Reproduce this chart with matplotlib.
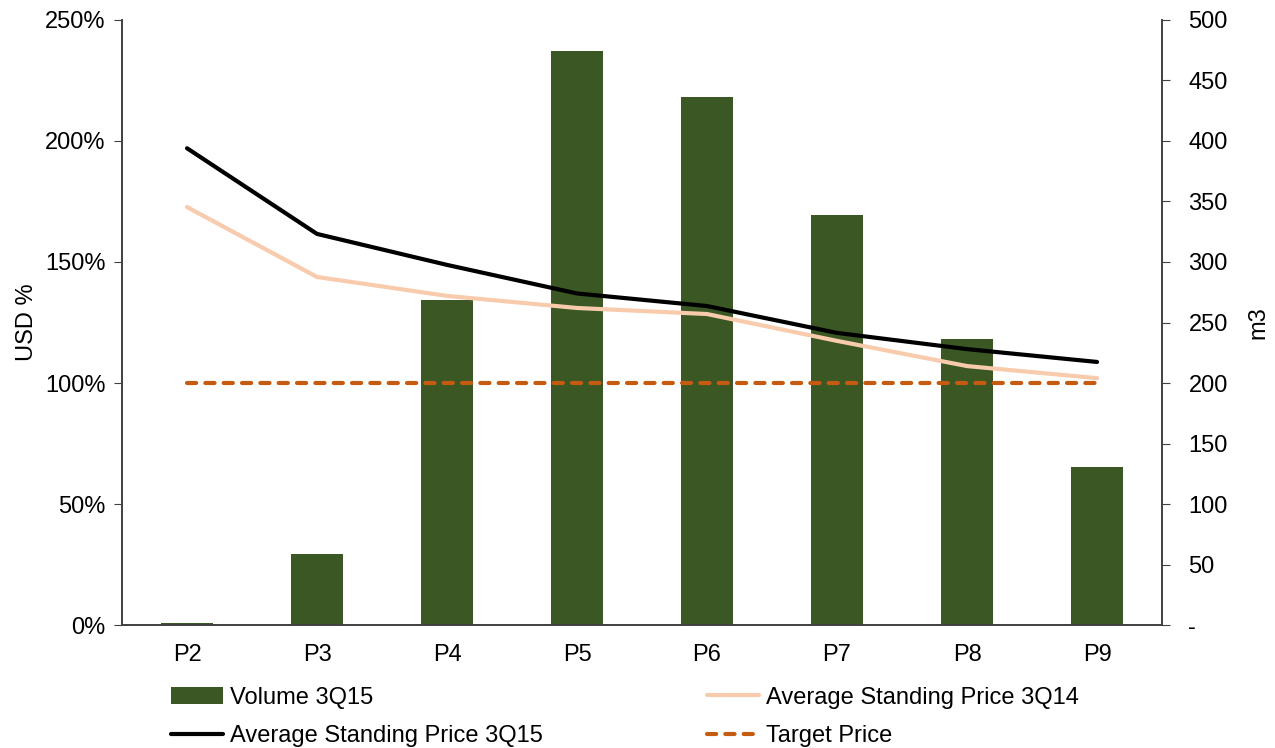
import matplotlib.pyplot as plt
import matplotlib.ticker
import numpy as np

plt.rcParams["font.family"] = ["Liberation Sans", "DejaVu Sans"]
plt.rcParams["font.size"] = 17

periods = ["P2", "P3", "P4", "P5", "P6", "P7", "P8", "P9"]
volume_3q15 = [1.5, 59, 269, 474, 436, 339, 236, 131]
price_3q14 = [1.727, 1.438, 1.360, 1.310, 1.285, 1.174, 1.070, 1.020]
price_3q15 = [1.970, 1.616, 1.488, 1.370, 1.318, 1.207, 1.140, 1.087]
target_price = [1.0] * len(periods)

x = np.arange(len(periods))
spine_color = "#404040"

fig = plt.figure(figsize=(12.75, 7.48), dpi=100)
ax = fig.add_axes([0.0957, 0.1644, 0.8157, 0.8089])
ax2 = ax.twinx()

# bars on the secondary axis, kept behind the price lines
ax.set_zorder(ax2.get_zorder() + 1)
ax.patch.set_visible(False)

bars = ax2.bar(x, volume_3q15, width=0.4, color="#3A5724", label="Volume 3Q15")
l14, = ax.plot(x, price_3q14, color="#F8CBAD", lw=3, solid_capstyle="round",
               label="Average Standing Price 3Q14")
l15, = ax.plot(x, price_3q15, color="black", lw=3, solid_capstyle="round",
               label="Average Standing Price 3Q15")
lt, = ax.plot(x, target_price, color="#C55A11", lw=3, linestyle=(0, (2.2, 2.2)),
              dash_capstyle="round", label="Target Price")

ax.set_xlim(-0.5, len(periods) - 0.5)
ax.set_ylim(0, 2.5)
ax.set_yticks(np.arange(0, 2.51, 0.5))
ax.yaxis.set_major_formatter(matplotlib.ticker.PercentFormatter(xmax=1, decimals=0))
ax2.set_ylim(0, 500)
ax2.set_yticks(np.arange(0, 501, 50))
ax2.set_yticklabels(["-"] + [str(v) for v in range(50, 501, 50)])

ax.set_xticks(x)
ax.set_xticklabels(periods)
ax.tick_params(axis="x", length=0, pad=14)
ax.tick_params(axis="y", direction="out", length=6, color=spine_color, pad=6)
ax2.tick_params(axis="y", direction="out", length=6, color=spine_color, pad=13)

ax.set_ylabel("USD %", labelpad=5)
ax2.set_ylabel("m3", labelpad=14)

for a in (ax, ax2):
    a.spines["top"].set_visible(False)
    for s in ("left", "right", "bottom"):
        a.spines[s].set_color(spine_color)
        a.spines[s].set_linewidth(1.2)

fig.legend(handles=[bars, l15, l14, lt], ncol=2, frameon=False,
           loc="upper left", bbox_to_anchor=(0.1343, 0.082),
           handlelength=2.2, handletextpad=0.3, columnspacing=6.95,
           labelspacing=0.7, borderaxespad=0, borderpad=0)

fig.savefig("out.png", dpi=100)
